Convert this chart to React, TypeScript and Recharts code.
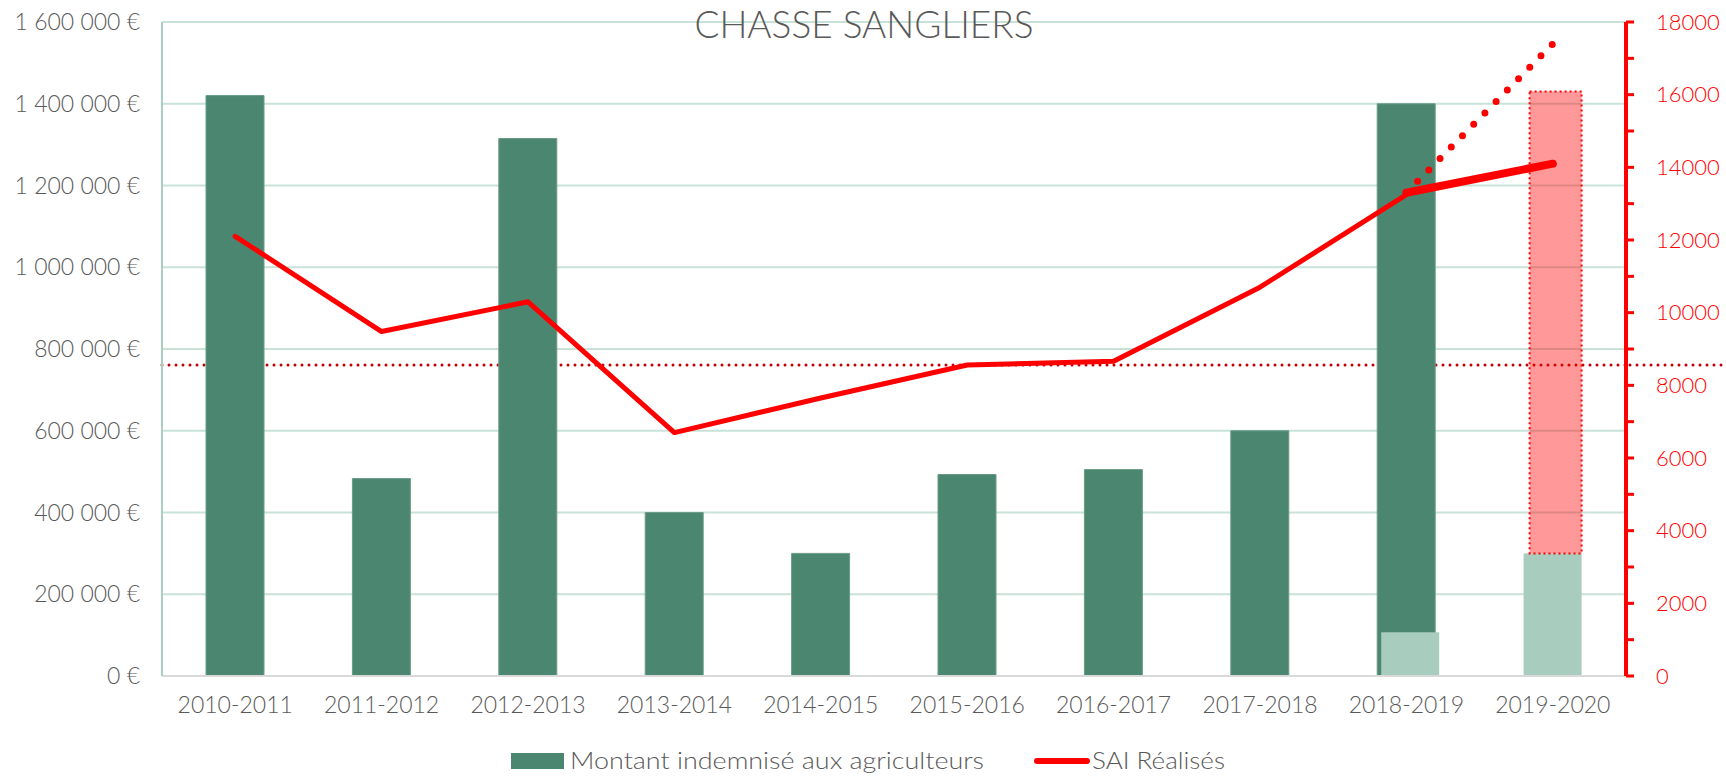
import React from 'react';
import {
  ComposedChart,
  Bar,
  Line,
  XAxis,
  YAxis,
  CartesianGrid,
  ReferenceLine,
  Legend,
  Customized,
} from 'recharts';

// ---- Data ----
const categories = [
  '2010-2011', '2011-2012', '2012-2013', '2013-2014', '2014-2015',
  '2015-2016', '2016-2017', '2017-2018', '2018-2019', '2019-2020',
];
const montantIndemnise = [1420000, 483000, 1315000, 400000, 300000, 493000, 505000, 600000, 1400000, null];
const montantClair = [null, null, null, null, null, null, null, null, 107000, 300000];
const montantProjete = [null, null, null, null, null, null, null, null, null, 1130000];
const saiRealises = [12100, 9480, 10300, 6700, 7650, 8560, 8660, 10700, 13250, null];
const saiTendance = [null, null, null, null, null, null, null, null, 13300, 14100];
const saiObjectif = [null, null, null, null, null, null, null, null, 13300, 17400];
const seuilSai = 8560;
const leftTicks = [0, 200000, 400000, 600000, 800000, 1000000, 1200000, 1400000, 1600000];
const rightTicks = [0, 1000, 2000, 3000, 4000, 5000, 6000, 7000, 8000, 9000, 10000, 11000, 12000, 13000, 14000, 15000, 16000, 17000, 18000];
const titleText = 'CHASSE SANGLIERS';
const legendBars = 'Montant indemnisé aux agriculteurs';
const legendLine = 'SAI Réalisés';

const data = categories.map((saison, i) => ({
  saison,
  montant: montantIndemnise[i],
  clair: montantClair[i],
  projete: montantProjete[i],
  sai: saiRealises[i],
  tendance: saiTendance[i],
  objectif: saiObjectif[i],
}));

const FONT = 'Lato, "Open Sans", sans-serif';
const GREY = '#595959';

const fmtEuro = (v: number) =>
  v === 0 ? '0 €' : String(v).replace(/\B(?=(\d{3})+(?!\d))/g, ' ') + ' €';

const PinkShape = (props: any) => {
  const { x, y, width, height } = props;
  if (!height || height <= 0) return null;
  return (
    <rect
      x={x + 6}
      y={y}
      width={width - 6}
      height={height}
      fill="rgba(255,0,0,0.4)"
      stroke="#ff0000"
      strokeWidth={2}
      strokeDasharray="2 3"
    />
  );
};

const ClairShape = (props: any) => {
  const { x, y, width, height, index } = props;
  if (!height || height <= 0) return null;
  const shift = index === 8 ? 4 : 0;
  return <rect x={x + shift} y={y} width={width} height={height} fill="#a8ccbe" />;
};

// Extension of the dotted threshold line beyond the right axis (the in-plot part is a grid line, behind the bars)
const DottedRefExtension = (props: any) => {
  const { x1, x2, y1 } = props;
  const right = Math.max(x1, x2);
  return (
    <line
      x1={right + 4}
      y1={y1}
      x2={1726}
      y2={y1}
      stroke="#c00000"
      strokeWidth={3}
      strokeDasharray="0 7"
      strokeLinecap="round"
    />
  );
};

const Title = () => (
  <text x={864} y={38} textAnchor="middle" fontFamily={FONT} fontWeight={300} fontSize={37} fill={GREY}>
    {titleText}
  </text>
);

const LegendContent = () => (
  <svg width={1726} height={40} style={{ display: 'block' }}>
    <rect x={511} y={17} width={53} height={16} fill="#4b8770" />
    <text
      x={570}
      y={33}
      fontFamily={FONT}
      fontWeight={300}
      fontSize={23}
      fill={GREY}
      textLength={414}
      lengthAdjust="spacingAndGlyphs"
    >
      {legendBars}
    </text>
    <line x1={1037} y1={25} x2={1087} y2={25} stroke="#ff0000" strokeWidth={6} strokeLinecap="round" />
    <text
      x={1092}
      y={33}
      fontFamily={FONT}
      fontWeight={300}
      fontSize={23}
      fill={GREY}
      textLength={133}
      lengthAdjust="spacingAndGlyphs"
    >
      {legendLine}
    </text>
  </svg>
);

export default function App() {
  return (
    <div style={{ width: 1726, height: 776, background: '#fff' }}>
      <style>{`body{margin:0;background:#fff}`}</style>
      <ComposedChart
        width={1726}
        height={776}
        data={data}
        margin={{ top: 22, right: 10, bottom: 0, left: 12 }}
      >
        <CartesianGrid
          xAxisId="main"
          yAxisId="left"
          vertical={false}
          stroke="#c9e2d8"
          strokeWidth={2}
        />
        <CartesianGrid
          xAxisId="main"
          yAxisId="right"
          vertical={false}
          horizontalValues={[seuilSai]}
          stroke="#c00000"
          strokeWidth={3}
          strokeDasharray="0 7"
          strokeLinecap="round"
        />
        <XAxis
          xAxisId="main"
          dataKey="saison"
          height={60}
          axisLine={{ stroke: '#d9d9d9', strokeWidth: 2 }}
          tickLine={false}
          tickSize={6}
          tickMargin={15}
          tick={{ fill: GREY, fontSize: 23, fontFamily: FONT, fontWeight: 300 }}
          interval={0}
        />
        <XAxis xAxisId="overlay" dataKey="saison" hide />
        <YAxis
          yAxisId="left"
          domain={[0, 1600000]}
          ticks={leftTicks}
          tickFormatter={fmtEuro}
          width={150}
          axisLine={{ stroke: '#a9cfbf', strokeWidth: 2 }}
          tickLine={false}
          tickSize={6}
          tickMargin={16}
          tick={{ fill: GREY, fontSize: 23, fontFamily: FONT, fontWeight: 300 }}
          interval={0}
        />
        <YAxis
          yAxisId="right"
          orientation="right"
          domain={[0, 18000]}
          ticks={rightTicks}
          tickFormatter={(v: number) => (v % 2000 === 0 ? String(v) : '')}
          width={90}
          axisLine={{ stroke: '#ff0000', strokeWidth: 4 }}
          tickLine={{ stroke: '#ff0000', strokeWidth: 3 }}
          tickSize={8}
          tickMargin={22}
          tick={{ fill: '#ff0000', fontSize: 22, fontFamily: FONT, fontWeight: 300 }}
          interval={0}
        />
        <ReferenceLine
          xAxisId="main"
          yAxisId="right"
          y={seuilSai}
          shape={DottedRefExtension}
        />
        <Bar
          xAxisId="main"
          yAxisId="left"
          dataKey="montant"
          barSize={58}
          fill="#4b8770"
          stroke="#6a9c88"
          strokeWidth={1}
          isAnimationActive={false}
        />
        <Bar
          xAxisId="overlay"
          yAxisId="left"
          dataKey="clair"
          stackId="p"
          barSize={58}
          fill="#a8ccbe"
          shape={ClairShape}
          isAnimationActive={false}
        />
        <Bar
          xAxisId="overlay"
          yAxisId="left"
          dataKey="projete"
          stackId="p"
          barSize={58}
          fill="rgba(255,0,0,0.4)"
          shape={PinkShape}
          isAnimationActive={false}
        />
        <Line
          xAxisId="main"
          yAxisId="right"
          dataKey="sai"
          stroke="#ff0000"
          strokeWidth={5}
          strokeLinecap="round"
          strokeLinejoin="round"
          dot={false}
          activeDot={false}
          isAnimationActive={false}
        />
        <Line
          xAxisId="main"
          yAxisId="right"
          dataKey="tendance"
          stroke="#ff0000"
          strokeWidth={8}
          strokeLinecap="round"
          dot={false}
          activeDot={false}
          isAnimationActive={false}
        />
        <Line
          xAxisId="main"
          yAxisId="right"
          dataKey="objectif"
          stroke="#ff0000"
          strokeWidth={7}
          strokeDasharray="0 16"
          strokeLinecap="round"
          dot={false}
          activeDot={false}
          isAnimationActive={false}
        />
        <Legend
          verticalAlign="bottom"
          content={LegendContent}
          wrapperStyle={{ left: 0, bottom: 0, width: 1726, height: 40 }}
        />
        <Customized component={Title} />
      </ComposedChart>
    </div>
  );
}
